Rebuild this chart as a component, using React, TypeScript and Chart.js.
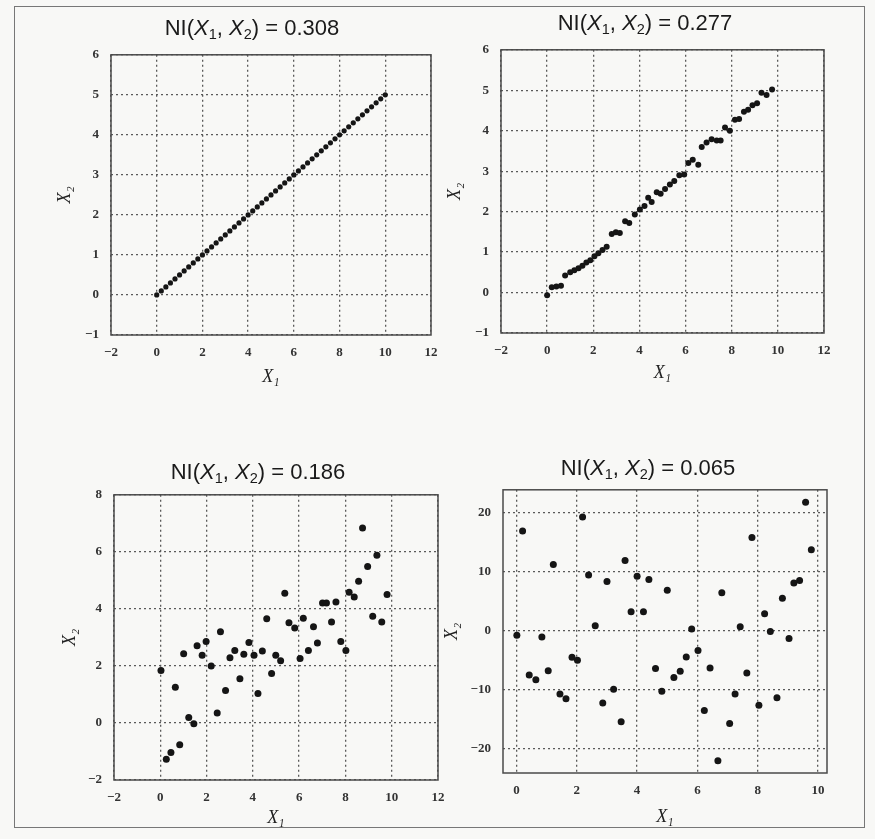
import React, { useEffect, useRef } from 'react';
import { Chart, registerables } from 'chart.js';
Chart.register(...registerables);

// ---------- data ----------
const p1X = [0, 0.2, 0.4, 0.6, 0.8, 1.0, 1.2, 1.4, 1.6, 1.8, 2.0, 2.2, 2.4, 2.6, 2.8, 3.0, 3.2, 3.4, 3.6, 3.8, 4.0, 4.2, 4.4, 4.6, 4.8, 5.0, 5.2, 5.4, 5.6, 5.8, 6.0, 6.2, 6.4, 6.6, 6.8, 7.0, 7.2, 7.4, 7.6, 7.8, 8.0, 8.2, 8.4, 8.6, 8.8, 9.0, 9.2, 9.4, 9.6, 9.8, 10.0];
const p1Y = [0, 0.1, 0.2, 0.3, 0.4, 0.5, 0.6, 0.7, 0.8, 0.9, 1.0, 1.1, 1.2, 1.3, 1.4, 1.5, 1.6, 1.7, 1.8, 1.9, 2.0, 2.1, 2.2, 2.3, 2.4, 2.5, 2.6, 2.7, 2.8, 2.9, 3.0, 3.1, 3.2, 3.3, 3.4, 3.5, 3.6, 3.7, 3.8, 3.9, 4.0, 4.1, 4.2, 4.3, 4.4, 4.5, 4.6, 4.7, 4.8, 4.9, 5.0];

const p2X = [0, 0.2, 0.4, 0.6, 0.78, 1.0, 1.18, 1.36, 1.53, 1.7, 1.87, 2.05, 2.22, 2.4, 2.58, 2.8, 2.98, 3.15, 3.38, 3.56, 3.8, 4.02, 4.22, 4.38, 4.53, 4.75, 4.92, 5.11, 5.32, 5.51, 5.73, 5.94, 6.12, 6.31, 6.55, 6.7, 6.91, 7.13, 7.35, 7.52, 7.71, 7.92, 8.14, 8.32, 8.53, 8.71, 8.9, 9.1, 9.29, 9.51, 9.75];
const p2Y = [-0.07, 0.13, 0.15, 0.17, 0.42, 0.5, 0.55, 0.6, 0.66, 0.74, 0.8, 0.9, 0.97, 1.05, 1.13, 1.45, 1.49, 1.47, 1.76, 1.72, 1.93, 2.05, 2.14, 2.34, 2.24, 2.48, 2.44, 2.56, 2.67, 2.76, 2.9, 2.92, 3.2, 3.28, 3.16, 3.6, 3.71, 3.79, 3.76, 3.76, 4.08, 4.0, 4.27, 4.29, 4.47, 4.52, 4.63, 4.68, 4.94, 4.88, 5.02];

const p3X = [0.03, 0.26, 0.46, 0.65, 0.84, 1.01, 1.23, 1.45, 1.59, 1.81, 1.98, 2.2, 2.46, 2.6, 2.82, 3.01, 3.22, 3.44, 3.61, 3.83, 4.05, 4.22, 4.41, 4.6, 4.81, 4.99, 5.2, 5.38, 5.56, 5.81, 6.04, 6.18, 6.4, 6.62, 6.79, 7.01, 7.18, 7.4, 7.59, 7.8, 8.02, 8.16, 8.38, 8.57, 8.74, 8.96, 9.18, 9.36, 9.57, 9.8];
const p3Y = [1.84, -1.27, -1.04, 1.25, -0.76, 2.43, 0.19, -0.03, 2.71, 2.37, 2.86, 2.0, 0.35, 3.2, 1.14, 2.29, 2.54, 1.55, 2.41, 2.82, 2.37, 1.03, 2.52, 3.65, 1.73, 2.37, 2.18, 4.55, 3.51, 3.33, 2.26, 3.67, 2.54, 3.37, 2.8, 4.21, 4.21, 3.54, 4.24, 2.86, 2.54, 4.58, 4.42, 4.97, 6.84, 5.49, 3.74, 5.88, 3.54, 4.5];

const p4X = [0.01, 0.2, 0.42, 0.64, 0.84, 1.05, 1.22, 1.44, 1.64, 1.84, 2.02, 2.19, 2.39, 2.61, 2.86, 3.0, 3.22, 3.47, 3.6, 3.8, 4.0, 4.21, 4.39, 4.61, 4.82, 5.0, 5.22, 5.43, 5.63, 5.81, 6.02, 6.23, 6.42, 6.68, 6.81, 7.07, 7.25, 7.42, 7.64, 7.81, 8.04, 8.23, 8.42, 8.64, 8.82, 9.04, 9.2, 9.39, 9.59, 9.78];
const p4Y = [-0.82, 16.9, -7.56, -8.38, -1.1, -6.85, 11.2, -10.8, -11.6, -4.55, -5.04, 19.3, 9.42, 0.82, -12.3, 8.33, -9.97, -15.5, 11.9, 3.18, 9.2, 3.18, 8.66, -6.47, -10.3, 6.85, -8.0, -6.9, -4.49, 0.27, -3.4, -13.6, -6.36, -22.1, 6.41, -15.8, -10.8, 0.66, -7.23, 15.8, -12.7, 2.85, -0.16, -11.4, 5.48, -1.37, 8.05, 8.49, 21.8, 13.7];

const ticksX = [-2, 0, 2, 4, 6, 8, 10, 12];
const ticksX4 = [0, 2, 4, 6, 8, 10];
const ticksY12 = [-1, 0, 1, 2, 3, 4, 5, 6];
const ticksY3 = [-2, 0, 2, 4, 6, 8];
const ticksY4 = [-20, -10, 0, 10, 20];

const titles = ['0.308', '0.277', '0.186', '0.065'];

// ---------- styling ----------
const SERIF = "'Liberation Serif', 'DejaVu Serif', serif";
const SANS = "'Liberation Sans', Arial, sans-serif";
const GRID = '#5a5a5a';

const framePlugin = {
  id: 'frame',
  afterDraw(chart: any) {
    const { ctx, chartArea } = chart;
    const { left, top, right, bottom } = chartArea;
    ctx.save();
    ctx.strokeStyle = '#4a4a4a';
    ctx.lineWidth = 1.5;
    ctx.strokeRect(left, top, right - left, bottom - top);
    ctx.restore();
  },
};

type PanelProps = {
  xs: number[];
  ys: number[];
  L: number; T: number; W: number; H: number;
  pad: { left: number; top: number; right: number; bottom: number };
  yw: number; xh: number;
  xmin: number; xmax: number; ymin: number; ymax: number;
  xt: number[]; yt: number[];
  r: number;
};

function Panel(p: PanelProps) {
  const ref = useRef<HTMLCanvasElement | null>(null);
  useEffect(() => {
    if (!ref.current) return;
    const fmt = (v: any) => String(v).replace('-', '\u2212');
    const tickFont = { family: SERIF, size: 13, weight: 'bold' as const };
    const titleFont = { family: SERIF, size: 18, style: 'italic' as const };
    const chart = new Chart(ref.current, {
      type: 'scatter',
      data: {
        datasets: [
          {
            data: p.xs.map((x, i) => ({ x, y: p.ys[i] })),
            pointRadius: p.r,
            pointBackgroundColor: '#151515',
            pointBorderWidth: 0,
            showLine: false,
          },
        ],
      },
      options: {
        animation: false,
        responsive: false,
        maintainAspectRatio: false,
        devicePixelRatio: 1,
        layout: { padding: p.pad, autoPadding: false },
        plugins: {
          legend: { display: false },
          tooltip: { enabled: false },
          title: { display: false },
        },
        scales: {
          x: {
            type: 'linear',
            min: p.xmin,
            max: p.xmax,
            afterBuildTicks: (s: any) => { s.ticks = p.xt.map((v) => ({ value: v })); },
            afterFit: (s: any) => { s.height = p.xh; },
            grid: { color: GRID, lineWidth: 1.3, drawTicks: false },
            border: { display: false, dash: [2, 3] },
            ticks: { padding: 10, font: tickFont, color: '#333', callback: fmt, maxRotation: 0, autoSkip: false },
            title: { display: true, text: 'X\u2081', font: titleFont, color: '#222', padding: 0 },
          },
          y: {
            type: 'linear',
            min: p.ymin,
            max: p.ymax,
            afterBuildTicks: (s: any) => { s.ticks = p.yt.map((v) => ({ value: v })); },
            afterFit: (s: any) => { s.width = p.yw; },
            grid: { color: GRID, lineWidth: 1.3, drawTicks: false },
            border: { display: false, dash: [2, 3] },
            ticks: { padding: 12, font: tickFont, color: '#333', callback: fmt, autoSkip: false },
            title: { display: true, text: 'X\u2082', font: titleFont, color: '#222', padding: 0 },
          },
        },
      } as any,
      plugins: [framePlugin],
    });
    return () => chart.destroy();
  }, []);
  return (
    <canvas
      ref={ref}
      width={p.W}
      height={p.H}
      style={{ position: 'absolute', left: p.L, top: p.T, width: p.W, height: p.H }}
    />
  );
}

function Title({ cx, cy, value }: { cx: number; cy: number; value: string }) {
  const sub = { fontSize: '0.66em', position: 'relative' as const, top: '0.3em' };
  return (
    <div
      style={{
        position: 'absolute',
        left: cx,
        top: cy - 13,
        transform: 'translateX(-50%)',
        fontFamily: SANS,
        fontSize: 22,
        lineHeight: '26px',
        color: '#1a1a1a',
        whiteSpace: 'nowrap',
      }}
    >
      NI(<i>X</i><span style={sub}>1</span>, <i>X</i><span style={sub}>2</span>) = {value}
    </div>
  );
}

export default function App() {
  return (
    <div
      style={{
        position: 'absolute',
        left: 0,
        top: 0,
        width: 875,
        height: 839,
        background: '#f8f8f6',
        overflow: 'hidden',
      }}
    >
      <div
        style={{
          position: 'absolute',
          left: 14,
          top: 6,
          width: 849,
          height: 820,
          border: '1.5px solid #777',
        }}
      />
      <Panel
        xs={p1X} ys={p1Y} L={20} T={35} W={440} H={370}
        pad={{ left: 34, top: 10, right: 29, bottom: 17 }} yw={57} xh={53}
        xmin={-2} xmax={12} ymin={-1} ymax={6} xt={ticksX} yt={ticksY12} r={2.6}
      />
      <Panel
        xs={p2X} ys={p2Y} L={440} T={30} W={430} H={370}
        pad={{ left: 4, top: 9, right: 46, bottom: 16 }} yw={57} xh={51}
        xmin={-2} xmax={12} ymin={-1} ymax={6} xt={ticksX} yt={ticksY12} r={3}
      />
      <Panel
        xs={p3X} ys={p3Y} L={20} T={475} W={440} H={364}
        pad={{ left: 39, top: 10, right: 22, bottom: 10 }} yw={55} xh={49}
        xmin={-2} xmax={12} ymin={-2} ymax={8} xt={ticksX} yt={ticksY3} r={3.5}
      />
      <Panel
        xs={p4X} ys={p4Y} L={440} T={470} W={430} H={369}
        pad={{ left: 1, top: 12, right: 43, bottom: 11 }} yw={62} xh={55}
        xmin={-0.45} xmax={10.3} ymin={-24.2} ymax={23.9} xt={ticksX4} yt={ticksY4} r={3.5}
      />
      <Title cx={252} cy={28} value={titles[0]} />
      <Title cx={645} cy={23} value={titles[1]} />
      <Title cx={258} cy={472} value={titles[2]} />
      <Title cx={648} cy={468} value={titles[3]} />
    </div>
  );
}
